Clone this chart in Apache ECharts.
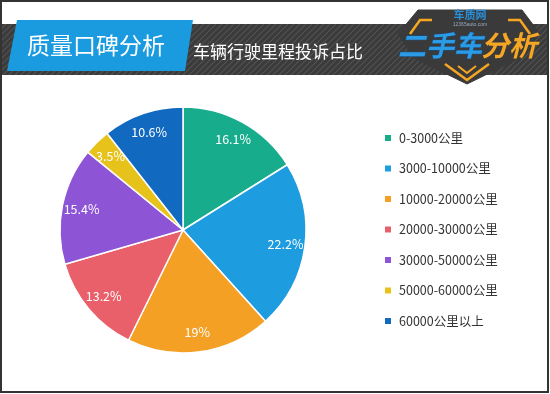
<!DOCTYPE html>
<html><head><meta charset="utf-8">
<script src="https://cdn.jsdelivr.net/npm/echarts@6/dist/echarts.min.js"></script>
<style>html,body{margin:0;padding:0;background:#fff}#c{width:550px;height:394px}</style>
</head><body><div id="c"></div>
<script>
const categories = ['0-3000公里','3000-10000公里','10000-20000公里','20000-30000公里','30000-50000公里','50000-60000公里','60000公里以上'];
const shares = [16.1, 22.2, 19, 13.2, 15.4, 3.5, 10.6];
const colors = ['#17ad8c','#1e9ce0','#f4a024','#e9606a','#8d55d6','#e6c21b','#1269c0'];
const titleText = '质量口碑分析';
const subtitleText = '车辆行驶里程投诉占比';

const FONT = '"Noto Sans CJK SC", "Noto Sans", sans-serif';

// striped band pattern
const pc = document.createElement('canvas');
pc.width = 6; pc.height = 6;
const g = pc.getContext('2d');
g.fillStyle = '#3b3b3b'; g.fillRect(0,0,6,6);
g.strokeStyle = '#525252'; g.lineWidth = 1.2;
g.beginPath(); g.moveTo(0,6); g.lineTo(6,0); g.moveTo(-3,3); g.lineTo(3,-3); g.moveTo(3,9); g.lineTo(9,3); g.stroke();

const data = categories.map((n,i)=>({name:n, value:shares[i], itemStyle:{color:colors[i]}}));

const chart = echarts.init(document.getElementById('c'), null, {renderer:'canvas'});
chart.setOption({
  animation:false,
  backgroundColor:'#fff',
  color: colors,
  legend:{
    orient:'vertical', left:378, top:126,
    icon:'rect', itemWidth:8, itemHeight:8, itemGap:16.5,
    textStyle:{fontSize:12.5, color:'#333', fontFamily:FONT, lineHeight:14, padding:[0,0,0,2]},
    data: categories
  },
  graphic:[
    {type:'rect', shape:{x:2,y:24,width:546,height:51}, style:{fill:{image:pc, repeat:'repeat'}}, z:1},
    {type:'polygon', shape:{points:[[17,20],[193,20],[185,71],[7,71]]}, style:{fill:'#1a9be0'}, z:2},
    {type:'text', x:96, y:45, style:{text:titleText, fill:'#fff', font:'23px '+FONT, align:'center', verticalAlign:'middle'}, z:3},
    {type:'text', x:278, y:52, style:{text:subtitleText, fill:'#fff', font:'17px '+FONT, align:'center', verticalAlign:'middle'}, z:3},
    // logo badge
    {type:'polygon', shape:{points:[[418,10],[522,10],[540,34],[520,58],[467,84],[414,58],[398,34]]}, style:{fill:'#3a3a3a', stroke:'#3a3a3a', lineWidth:1}, z:4},
    {type:'polyline', shape:{points:[[432,20],[420,20],[410,34]]}, style:{stroke:'#f5a623', lineWidth:2.5, fill:null}, z:5},
    {type:'polyline', shape:{points:[[508,20],[520,20],[530,34]]}, style:{stroke:'#f5a623', lineWidth:2.5, fill:null}, z:5},
    {type:'polyline', shape:{points:[[445,64],[467,80],[489,64]]}, style:{stroke:'#f5a623', lineWidth:2.5, fill:null}, z:5},
    {type:'polyline', shape:{points:[[458,66],[467,73],[476,66]]}, style:{stroke:'#f5a623', lineWidth:2, fill:null}, z:5},
    {type:'text', x:470, y:15, style:{text:'车质网', fill:'#2a8fd8', font:'bold 11px '+FONT, align:'center', verticalAlign:'middle'}, z:6},
    {type:'text', x:470, y:25, style:{text:'12365auto.com', fill:'#9ab', font:'5px sans-serif', align:'center', verticalAlign:'middle'}, z:6},
    {type:'text', x:440, y:45, style:{text:'二手车', fill:'#2b9be6', font:'italic bold 28px '+FONT, align:'center', verticalAlign:'middle', stroke:'#1d4f80', lineWidth:1}, z:6},
    {type:'text', x:509, y:45, style:{text:'分析', fill:'#f5a623', font:'italic bold 28px '+FONT, align:'center', verticalAlign:'middle'}, z:6},
    {type:'rect', shape:{x:1,y:1,width:547,height:391}, style:{fill:null, stroke:'#333', lineWidth:2}, z:10, silent:true}
  ],
  series:[
    {
      type:'pie', center:[183,230], radius:[0,123], startAngle:90, clockwise:true,
      label:{show:false}, labelLine:{show:false},
      itemStyle:{borderColor:'#fff', borderWidth:1.5},
      data: data, silent:true
    },
    {
      type:'pie', center:[183,230], radius:[78,123], startAngle:90, clockwise:true,
      itemStyle:{color:'transparent', borderWidth:0},
      label:{show:true, position:'inside', color:'#fff', fontSize:12.5, fontFamily:FONT, formatter:'{c}%'},
      labelLine:{show:false}, emphasis:{disabled:true},
      data: categories.map((n,i)=>({name:n, value:shares[i], itemStyle:{color:'rgba(0,0,0,0)'}})),
      silent:true, z:3
    }
  ]
});
</script></body></html>
